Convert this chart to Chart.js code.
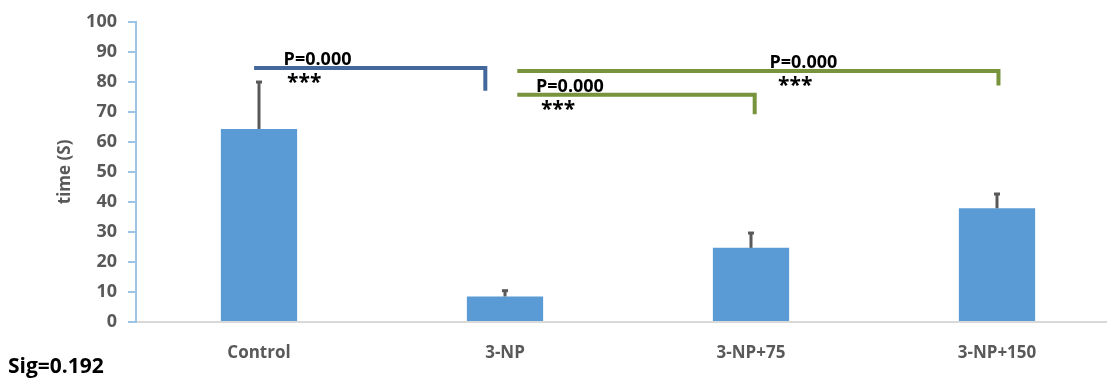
<!DOCTYPE html>
<html>
<head>
<meta charset="utf-8">
<script src="https://cdn.jsdelivr.net/npm/chart.js@4.4.1/dist/chart.umd.min.js"></script>
<style>
	html, body { margin: 0; padding: 0; background: #fff; overflow: hidden; }
	#wrap { position: relative; width: 1125px; height: 379px; }
</style>
</head>
<body>
<div id="wrap"><canvas id="bar_graph"></canvas></div>
<script>
// groups and measured time (mean and SD)
var categories = ['Control', '3-NP', '3-NP+75', '3-NP+150'];
var meanTime = [64.3, 8.5, 24.7, 37.9];
var sdTime = [15.8, 2.1, 5.1, 4.9];
var yMin = 0, yMax = 100, yStep = 10;

// pairwise comparisons: groups, p value, stars, bracket level and drop (in seconds)
var pairFrom = [0, 1, 1];
var pairTo = [1, 3, 2];
var pairP = ['P=0.000', 'P=0.000', 'P=0.000'];
var pairStars = ['***', '***', '***'];
var pairLevel = [84.6, 83.6, 75.7];
var pairDrop = [77.0, 78.8, 69.2];

var sigText = 'Sig=0.192';

// layout of each bracket, in category widths relative to the group centres
var bracketStyle = [
	{ color: '#44689b', x0: -0.02, x1: -0.08, textX: 0.10, starX: 0.114 },
	{ color: '#77933c', x0: 0.05, x1: 0.006, textX: 1.075, starX: 1.11 },
	{ color: '#77933c', x0: 0.05, x1: 0.015, textX: 0.126, starX: 0.146 }
];

var FONT = '"Open Sans", "DejaVu Sans", sans-serif';

var errorBars = {
	id: 'errorBars',
	afterDatasetsDraw: function(chart) {
		var ctx = chart.ctx;
		var y = chart.scales.y;
		var meta = chart.getDatasetMeta(0);
		ctx.save();
		ctx.strokeStyle = '#595959';
		ctx.fillStyle = '#595959';
		ctx.lineWidth = 3;
		meta.data.forEach(function(bar, i) {
			var top = y.getPixelForValue(meanTime[i] + sdTime[i]);
			ctx.beginPath();
			ctx.moveTo(bar.x, bar.y);
			ctx.lineTo(bar.x, top);
			ctx.stroke();
			ctx.fillRect(bar.x - 3, top - 1, 6, 3);
		});
		ctx.restore();
	}
};

var brackets = {
	id: 'brackets',
	afterDraw: function(chart) {
		var ctx = chart.ctx;
		var x = chart.scales.x;
		var y = chart.scales.y;
		var step = x.getPixelForValue(1) - x.getPixelForValue(0);
		ctx.save();
		for (var i = 0; i < pairFrom.length; i++) {
			var st = bracketStyle[i];
			var base = x.getPixelForValue(pairFrom[i]);
			var xa = base + st.x0 * step;
			var xb = x.getPixelForValue(pairTo[i]) + st.x1 * step;
			var ya = y.getPixelForValue(pairLevel[i]);
			var yb = y.getPixelForValue(pairDrop[i]);
			ctx.strokeStyle = st.color;
			ctx.lineWidth = 4;
			ctx.lineJoin = 'miter';
			ctx.beginPath();
			ctx.moveTo(xa, ya);
			ctx.lineTo(xb, ya);
			ctx.lineTo(xb, yb);
			ctx.stroke();

			ctx.fillStyle = '#000';
			ctx.textAlign = 'left';
			ctx.textBaseline = 'alphabetic';
			ctx.font = 'bold 18px ' + FONT;
			ctx.fillText(pairP[i], base + st.textX * step, ya - 3);
			ctx.font = 'bold 21px ' + FONT;
			ctx.fillText(pairStars[i], base + st.starX * step, ya + 21);
		}
		ctx.font = 'bold 21px ' + FONT;
		ctx.fillStyle = '#000';
		ctx.fillText(sigText, 8, 373);
		ctx.restore();
	}
};

var chartdata = {
	labels: categories,
	datasets: [{
		label: 'time (S)',
		data: meanTime,
		backgroundColor: '#5b9bd5',
		borderWidth: 0,
		categoryPercentage: 1.0,
		barPercentage: 0.31
	}]
};

var barGraph = new Chart(document.getElementById('bar_graph'), {
	type: 'bar',
	data: chartdata,
	plugins: [errorBars, brackets],
	options: {
		responsive: true,
		maintainAspectRatio: false,
		animation: false,
		layout: { padding: { left: 0, right: 5, top: 20, bottom: 0 } },
		plugins: {
			legend: { display: false },
			tooltip: { enabled: false }
		},
		scales: {
			x: {
				afterFit: function(scale) { scale.height = 57; },
				grid: { display: false },
				border: { display: true, color: '#d9d9d9', width: 2 },
				ticks: {
					color: '#595959',
					padding: 13,
					font: { family: FONT, size: 17, weight: 'bold' }
				}
			},
			y: {
				min: yMin,
				max: yMax,
				afterFit: function(scale) { scale.width = 136; },
				grid: { drawOnChartArea: false, drawTicks: true, tickLength: 8, color: '#9dc3e6', lineWidth: 2 },
				border: { display: true, color: '#9dc3e6', width: 2 },
				ticks: {
					stepSize: yStep,
					color: '#595959',
					padding: 11,
					font: { family: FONT, size: 18, weight: 'bold' }
				},
				title: {
					display: true,
					text: 'time (S)',
					color: '#595959',
					padding: { top: 55, bottom: 0 },
					font: { family: FONT, size: 17, weight: 'bold' }
				}
			}
		}
	}
});
</script>
</body>
</html>
